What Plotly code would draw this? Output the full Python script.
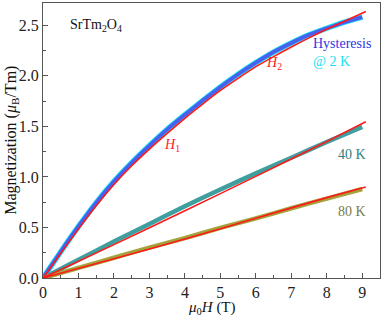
import plotly.graph_objects as go

# ---- data ----
h_2k = [0, 0.5, 1, 1.5, 2, 2.5, 3, 3.5, 4, 4.5, 5, 5.5, 6, 6.5, 7, 7.5, 8, 8.5, 9]
m_2k_up = [0, 0.26, 0.51, 0.745, 0.955, 1.14, 1.31, 1.47, 1.615, 1.755, 1.89, 2.015, 2.13, 2.235, 2.325, 2.405, 2.47, 2.53, 2.58]
m_2k_down = [0, 0.26, 0.51, 0.745, 0.955, 1.14, 1.31, 1.47, 1.615, 1.755, 1.89, 2.015, 2.13, 2.235, 2.325, 2.405, 2.47, 2.53, 2.58]

h_fit = [0, 0.5, 1, 1.5, 2, 2.5, 3, 3.5, 4, 4.5, 5, 5.5, 6, 6.5, 7, 7.5, 8, 8.5, 9.1]
m_2k_fit = [0, 0.245, 0.485, 0.715, 0.925, 1.11, 1.275, 1.43, 1.58, 1.72, 1.855, 1.975, 2.09, 2.19, 2.285, 2.375, 2.46, 2.54, 2.635]

h_t = [0, 1, 2, 3, 4, 5, 6, 7, 8, 9]
m_40k = [0, 0.18, 0.36, 0.535, 0.71, 0.875, 1.035, 1.19, 1.345, 1.495]
m_80k = [0, 0.10, 0.20, 0.30, 0.395, 0.495, 0.59, 0.69, 0.785, 0.88]

h_tfit = [0, 2, 4, 6, 8, 9.1]
m_40k_fit = [0, 0.33, 0.665, 1.005, 1.35, 1.545]
m_80k_fit = [0, 0.19, 0.385, 0.59, 0.795, 0.90]

FONT = "Liberation Serif"
fig = go.Figure()

def band(x, y, color, width):
    fig.add_trace(go.Scatter(x=x, y=y, mode="lines", line=dict(color=color, width=width, shape="spline", smoothing=0.6),
                             hoverinfo="skip", showlegend=False))

band(h_2k, m_2k_down, "#1fe3f5", 5.5)
band(h_2k, m_2k_up, "#4860f0", 3.8)
band(h_t, m_40k, "#3f9e9e", 4.5)
band(h_t, m_80k, "#a3a33c", 4.5)
band(h_fit, m_2k_fit, "#ff1a1a", 1.6)
band(h_tfit, m_40k_fit, "#ff1a1a", 1.6)
band(h_tfit, m_80k_fit, "#ff1a1a", 1.6)

axis_common = dict(showline=True, linecolor="#555555", linewidth=1.3, mirror=True, ticks="inside",
                   ticklen=5, tickwidth=1.2, tickcolor="#555555", showgrid=False, zeroline=False,
                   automargin=False, tickfont=dict(family=FONT, size=16, color="#222222"))

fig.update_xaxes(range=[0, 9.5], tickvals=list(range(10)),
                 minor=dict(ticks="inside", ticklen=3, tickwidth=1, tickcolor="#555555", dtick=0.5, tick0=0),
                 **axis_common)
fig.update_yaxes(range=[0, 2.72], tickvals=[0, 0.5, 1.0, 1.5, 2.0, 2.5], ticktext=["0.0", "0.5", "1.0", "1.5", "2.0", "2.5"],
                 minor=dict(ticks="inside", ticklen=3, tickwidth=1, tickcolor="#555555", dtick=0.25, tick0=0),
                 **axis_common)

ann = []
def txt(x, y, s, color, size=14, xref="x", yref="y", **kw):
    ann.append(dict(x=x, y=y, xref=xref, yref=yref, text=s, showarrow=False,
                    font=dict(family=FONT, size=size, color=color), **kw))

txt(0.7, 2.5, "SrTm<sub>2</sub>O<sub>4</sub>", "#111111", xanchor="left")
txt(7.55, 2.32, "Hysteresis", "#3333e6", xanchor="left")
txt(7.55, 2.14, "@ 2 K", "#18dff0", xanchor="left")
txt(6.5, 2.12, "<i>H</i><sub>2</sub>", "#ff2020")
txt(3.65, 1.31, "<i>H</i><sub>1</sub>", "#ff2020")
txt(8.25, 1.22, "40 K", "#2f7f7f", xanchor="left")
txt(8.25, 0.66, "80 K", "#7a7a4a", xanchor="left")
txt(-0.094, 0.5, "Magnetization (<i>μ</i><sub>B</sub>/Tm)", "#111111", size=16, xref="paper", yref="paper",
    textangle=-90, xanchor="center", yanchor="middle")
txt(0.5, -0.108, "<i>μ</i><sub>0</sub><i>H</i> (T)", "#111111", size=15, xref="paper", yref="paper",
    xanchor="center", yanchor="middle")

fig.update_layout(width=382, height=316, margin=dict(l=43, r=2, t=3, b=38),
                  plot_bgcolor="white", paper_bgcolor="white", annotations=ann, showlegend=False)

fig.write_html("out.html", config={"displayModeBar": False},
               post_script="document.body.style.margin='0';document.body.style.padding='0';document.body.style.overflow='hidden';")
